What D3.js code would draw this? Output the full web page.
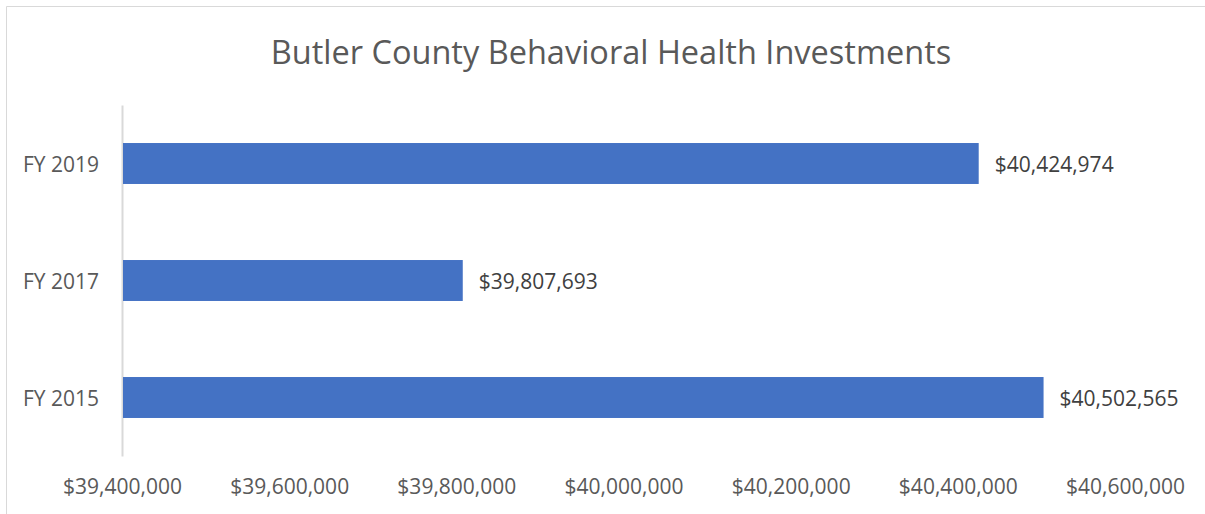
<!DOCTYPE html>
<html>
<head>
<meta charset="utf-8">
<script src="https://cdn.jsdelivr.net/npm/d3@7"></script>
<style>
  body { margin: 0; background: #fff; }
  text { font-family: "Open Sans", sans-serif; }
</style>
</head>
<body>
<script>
'use strict';

var title = "Butler County Behavioral Health Investments";
var categories = ["FY 2019", "FY 2017", "FY 2015"];
var values = [40424974, 39807693, 40502565];
var tickValues = [39400000, 39600000, 39800000, 40000000, 40200000, 40400000, 40600000];

var chart = {};
chart.width = 1205;
chart.height = 514;
chart.left = 122;
chart.right = 1125;
chart.top = 105;
chart.bottom = 456;

chart.money = d3.format("$,.0f");

chart.run = function(){
    var svg = d3.select("body").append("svg")
        .attr("width", chart.width)
        .attr("height", chart.height);

    // chart border (only top and left edges show in the crop)
    svg.append("path")
        .attr("d", "M6.5," + chart.height + "V6.5H" + chart.width)
        .attr("fill", "none")
        .attr("stroke", "#d9d9d9")
        .attr("stroke-width", 1);

    svg.append("text")
        .attr("x", 611)
        .attr("y", 64)
        .attr("text-anchor", "middle")
        .attr("font-size", 32.5)
        .attr("fill", "#595959")
        .text(title);

    var x = d3.scaleLinear()
        .domain([tickValues[0], tickValues[tickValues.length - 1]])
        .range([chart.left, chart.right]);

    var y = d3.scaleBand()
        .domain(categories)
        .range([chart.top, chart.bottom])
        .paddingInner(0.65)
        .paddingOuter(0.325);

    var xAxis = svg.append("g")
        .attr("transform", "translate(0," + chart.bottom + ")")
        .call(d3.axisBottom(x).tickValues(tickValues).tickFormat(chart.money).tickSize(0).tickPadding(23));
    xAxis.select(".domain").remove();
    xAxis.selectAll("text")
        .attr("font-size", 21)
        .attr("font-family", "Open Sans")
        .attr("fill", "#595959");

    var yAxis = svg.append("g")
        .attr("transform", "translate(" + chart.left + ",0)")
        .call(d3.axisLeft(y).tickSize(0).tickPadding(23));
    yAxis.select(".domain")
        .attr("stroke", "#d9d9d9")
        .attr("stroke-width", 2);
    yAxis.selectAll("text")
        .attr("font-size", 21)
        .attr("font-family", "Open Sans")
        .attr("fill", "#595959")
        .attr("dy", "0.42em");

    svg.selectAll(".bar")
        .data(values)
        .enter()
            .append("rect")
            .classed("bar", true)
            .attr("x", x(tickValues[0]) + 1)
            .attr("y", function(d, i){ return y(categories[i]); })
            .attr("width", function(d){ return x(d) - x(tickValues[0]) - 1; })
            .attr("height", y.bandwidth())
            .attr("fill", "#4472c4");

    svg.selectAll(".bar-label")
        .data(values)
        .enter()
            .append("text")
            .classed("bar-label", true)
            .attr("x", function(d){ return x(d) + 16; })
            .attr("y", function(d, i){ return y(categories[i]) + y.bandwidth() / 2; })
            .attr("dy", "0.42em")
            .attr("font-size", 21)
            .attr("fill", "#404040")
            .text(function(d){ return chart.money(d); });
};

window.onload = chart.run;
</script>
</body>
</html>
